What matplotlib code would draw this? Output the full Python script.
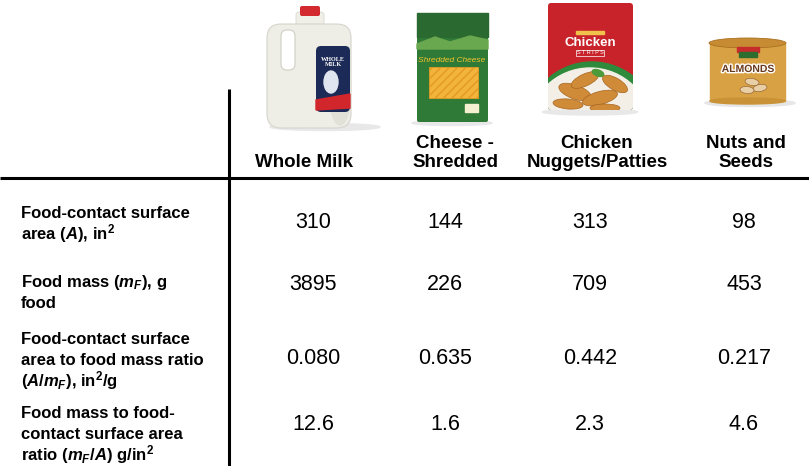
import matplotlib
matplotlib.use("Agg")
import matplotlib.pyplot as plt
import matplotlib.patches as mpatches
import matplotlib.patheffects as pe

# -- table content -- #
foods = ["Whole Milk", "Cheese -\nShredded", "Chicken\nNuggets/Patties", "Nuts and\nSeeds"]
row_labels = [
    ["Food-contact surface", "area ($A$), in$^2$"],
    ["Food mass ($m_F$), g", "food"],
    ["Food-contact surface", "area to food mass ratio", "($A/m_F$), in$^2$/g"],
    ["Food mass to food-", "contact surface area", "ratio ($m_F/A$) g/in$^2$"],
]
surface_area = ["310", "144", "313", "98"]
food_mass = ["3895", "226", "709", "453"]
area_to_mass = ["0.080", "0.635", "0.442", "0.217"]
mass_to_area = ["12.6", "1.6", "2.3", "4.6"]
values = [surface_area, food_mass, area_to_mass, mass_to_area]

# layout (pixels, y down)
W, H = 809, 466
header_x = [304, 455, 597, 746]
value_x = [313, 445, 590, 744]
label_base = [218, 287, 344, 418]   # baseline of first line of each row label
line_step = 21
value_y = [222, 285, 358, 425]

plt.rcParams['font.family'] = ['Liberation Sans', 'DejaVu Sans']
plt.rcParams['mathtext.fontset'] = 'custom'
plt.rcParams['mathtext.rm'] = 'Liberation Sans:bold'
plt.rcParams['mathtext.bf'] = 'Liberation Sans:bold'
plt.rcParams['mathtext.it'] = 'Liberation Sans:bold:italic'

fig = plt.figure(figsize=(W / 100, H / 100), dpi=100)
ax = fig.add_axes([0, 0, 1, 1])
ax.set_xlim(0, W)
ax.set_ylim(H, 0)
ax.axis('off')


def rbox(x0, y0, x1, y1, r, **kw):
    p = mpatches.FancyBboxPatch((x0 + r, y0 + r), (x1 - x0) - 2 * r, (y1 - y0) - 2 * r,
                                boxstyle="round,pad=%g" % r, **kw)
    ax.add_patch(p)
    return p


# -- product pictures (rough drawings) -- #
def draw_milk():
    ax.add_patch(mpatches.Ellipse((325, 127), 110, 7, color='#e8e8e8', zorder=1))
    rbox(296, 12, 324, 30, 3, fc='#f1f0e8', ec='#d8d8d0', lw=0.6, zorder=2)
    rbox(300, 6, 320, 16, 2, fc='#d22a2f', ec='none', zorder=3)
    rbox(267, 24, 351, 128, 14, fc='#efeee6', ec='#d5d4cc', lw=0.8, zorder=2)
    ax.add_patch(mpatches.Ellipse((340, 90), 22, 70, color='#e2e1d8', zorder=2))
    rbox(281, 30, 295, 70, 6, fc='white', ec='#d0cfc6', lw=0.8, zorder=3)
    rbox(316, 46, 350, 112, 5, fc='#1b2a57', ec='none', zorder=3)
    ax.add_patch(mpatches.Polygon([[316, 100], [350, 94], [350, 108], [316, 110]],
                                  color='#d0262c', zorder=4))
    ax.add_patch(mpatches.Ellipse((331, 82), 14, 22, color='#dfe6f0', zorder=4))
    ax.text(333, 62, "WHOLE\nMILK", fontsize=4.5, family='Liberation Serif', color='white',
            ha='center', va='center', fontweight='bold', zorder=5, linespacing=0.9)


def draw_cheese():
    ax.add_patch(mpatches.Ellipse((452, 123), 80, 5, color='#e8e8e8', zorder=1))
    rbox(417, 13, 488, 122, 2, fc='#2f7a36', ec='none', zorder=2)
    ax.add_patch(mpatches.Rectangle((417, 13), 71, 24, color='#2a6a30', zorder=3))
    ax.add_patch(mpatches.Polygon([[417, 44], [435, 37], [450, 42], [470, 36], [488, 40],
                                   [488, 49], [417, 49]], color='#6aa84f', zorder=3))
    ax.text(452, 61, "Shredded Cheese", fontsize=6, style='italic', color='#f4c430',
            ha='center', va='center', zorder=4)
    ax.add_patch(mpatches.Rectangle((429, 67), 49, 31, fc='#f2b43a', ec='#e39a24',
                                    lw=0.6, hatch='////', zorder=4))
    ax.add_patch(mpatches.Rectangle((465, 104), 13, 8, color='#f4f0d0', zorder=4))


def draw_chicken():
    ax.add_patch(mpatches.Ellipse((590, 112), 95, 6, color='#e8e8e8', zorder=1))
    bag = rbox(548, 3, 633, 110, 3, fc='#c8232b', ec='none', zorder=2)
    parts = [mpatches.Wedge((592, 128), 66, 180, 360, color='#2f8a3c', zorder=3),
             mpatches.Wedge((590, 130), 62, 180, 360, color='#f3efe6', zorder=3)]
    for cx, cy, w, h, a in [(575, 92, 34, 14, 20), (600, 98, 36, 13, -15), (615, 84, 28, 12, 30),
                            (585, 80, 30, 12, -25), (568, 104, 30, 10, 5), (605, 108, 30, 8, 0)]:
        parts.append(mpatches.Ellipse((cx, cy), w, h, angle=a, fc='#cf8b38',
                                      ec='#a8651f', lw=0.5, zorder=4))
    parts.append(mpatches.Ellipse((598, 73), 12, 6, angle=20, color='#4d9a3a', zorder=5))
    for p in parts:
        ax.add_patch(p)
        p.set_clip_path(bag)
    ax.text(590, 43, "Chicken", fontsize=9.5, fontweight='bold', color='white',
            ha='center', va='center', zorder=4)
    ax.text(590, 53, "S T R I P S", fontsize=4, color='white', ha='center', va='center',
            zorder=4, bbox=dict(fc='none', ec='white', lw=0.5, pad=0.6))
    ax.add_patch(mpatches.Rectangle((576, 31), 28, 3, color='#f1c24b', zorder=4))


def draw_nuts():
    ax.add_patch(mpatches.Ellipse((750, 103), 90, 7, color='#e6e6e6', zorder=1))
    ax.add_patch(mpatches.Rectangle((710, 43), 75, 58, color='#d8a244', zorder=2))
    ax.add_patch(mpatches.Ellipse((747.5, 101), 75, 6, color='#c99236', zorder=2))
    ax.add_patch(mpatches.Ellipse((747.5, 43), 77, 10, fc='#c78c33', ec='#a87020', lw=0.6, zorder=3))
    ax.add_patch(mpatches.Rectangle((737, 47), 22, 5, color='#c72c2c', zorder=4))
    ax.add_patch(mpatches.Rectangle((739, 52), 18, 5, color='#2d6e30', zorder=4))
    ax.text(748, 69, "ALMONDS", fontsize=7.5, fontweight='bold', color='#6a3a1e', ha='center',
            va='center', zorder=5, path_effects=[pe.withStroke(linewidth=2, foreground='white')])
    for cx, cy, a in [(752, 82, 10), (760, 88, -10), (747, 90, 5)]:
        ax.add_patch(mpatches.Ellipse((cx, cy), 14, 7, angle=a, fc='#e8cfa6', ec='#9a6a3a',
                                      lw=0.5, zorder=5))


draw_milk()
draw_cheese()
draw_chicken()
draw_nuts()

# -- grid lines -- #
ax.plot([229, 229], [89, H], color='black', lw=2.2, solid_capstyle='butt')
ax.plot([0, W], [178, 178], color='black', lw=2.2, solid_capstyle='butt')

# -- header -- #
for x, name in zip(header_x, foods):
    ax.text(x, 171, name, fontsize=13.5, fontweight='bold', ha='center', va='bottom',
            linespacing=1.12)

# -- rows -- #
for i, lines in enumerate(row_labels):
    for j, line in enumerate(lines):
        ax.text(21, label_base[i] + j * line_step, line, fontsize=12, fontweight='bold',
                ha='left', va='baseline')
    for x, v in zip(value_x, values[i]):
        ax.text(x, value_y[i], v, fontsize=15.5, ha='center', va='center')

fig.savefig('out.png', dpi=100)
